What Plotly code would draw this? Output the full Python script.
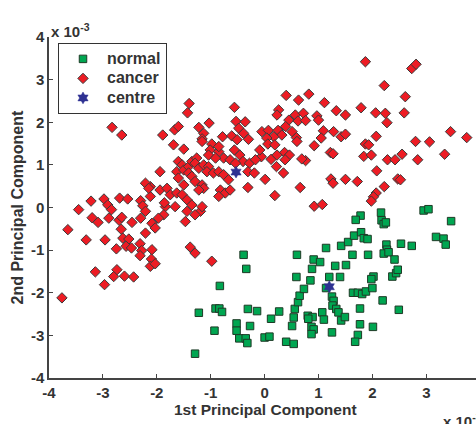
import plotly.graph_objects as go

# ---- data (units of 1e-3) ----
normal_x = [-0.39, -0.34, -0.83, -0.91, -0.84, -0.79, -0.93, -0.52, -0.52, -0.47, -0.35, -0.32,
            -0.31, -0.14, -0.27, 0.00, 0.09, 0.12, 0.27, 0.40, 0.54, 0.51, 0.54, 0.56, 0.62, 0.65,
            0.73, 0.85, 0.59, 0.60, 0.88, 0.91, 1.03, 0.80, 0.89, 0.81, 0.87, 0.91, 0.87, 1.07,
            1.10, 1.14, 1.20, 1.14, 1.25, 1.28, 1.26, 1.33, 1.37, 1.42, 1.49, 1.25, 1.31, 1.51,
            1.40, 1.42, 1.55, 1.66, 1.79, 1.84, 1.91, 1.63, 1.92, 1.64, 1.73, 1.81, 1.88, 2.00,
            1.77, 1.77, 1.73, 1.68, 2.01, 2.19, 2.02, 1.98, 2.26, 2.27, 2.21, 2.30, 2.41, 2.37,
            2.44, 2.47, 2.49, 2.53, 2.73, 3.18, 3.32, 3.36, 1.78, 1.69, 2.16, 2.17, 2.21, 2.25,
            2.95, 3.04, 3.46, -1.22, -1.29]
normal_y = [-1.11, -1.44, -1.84, -2.37, -2.37, -2.45, -2.89, -2.72, -2.89, -3.07, -3.07, -3.18,
            -2.38, -2.43, -2.78, -3.05, -3.03, -2.61, -2.44, -3.15, -3.20, -2.78, -2.58, -2.38,
            -2.22, -2.07, -1.91, -1.71, -1.63, -1.11, -1.44, -1.22, -1.28, -2.54, -2.57, -2.61,
            -2.80, -2.86, -2.97, -2.46, -2.63, -0.95, -1.63, -1.89, -2.09, -2.19, -2.30, -2.38,
            -2.46, -2.65, -2.57, -2.93, -1.37, -1.35, -1.63, -0.90, -0.81, -0.66, -0.58, -0.72,
            -0.74, -1.11, -1.11, -2.00, -2.00, -2.03, -1.97, -1.89, -2.37, -2.74, -2.99, -3.15,
            -2.80, -2.18, -1.62, -1.68, -0.87, -0.99, -1.08, -1.05, -1.22, -1.62, -1.54, -1.46,
            -2.40, -0.85, -0.90, -0.69, -0.73, -0.87, -0.19, -0.29, -0.12, -0.30, -0.39, -0.35,
            -0.07, -0.04, -0.32, -2.47, -3.43]

cancer_x = [-2.83, -2.65, -1.40, -1.43, -1.89, -1.67, -1.60, -1.22, -1.13, -1.03, -0.78, -0.61,
            -0.56, -0.53, -0.36, -1.16, -0.48, -0.39, -0.51, -0.30, 0.40, 0.63, 0.82, 0.26,
            0.23, 0.45, 0.57, 0.72, 0.62, 0.76, -0.05, 0.07, 0.25, 0.39, 0.51, 0.32, 0.59,
            0.17, 0.04, 1.87, 2.73, 2.81, 2.22, 2.61, 1.11, 1.33, 1.50, 1.79, 2.06, 2.24, 2.27,
            2.59, 0.97, 1.00, 1.09, 1.05, 1.28, 1.42, 1.50, 2.07, 1.87, 1.93, 2.80, 3.06, 3.45,
            3.75, 0.92, 1.22, 1.27, 0.76, 0.69, 0.66, 1.84, 1.98, 2.08, 2.28, 2.42, 2.55, 2.84,
            3.34, 1.23, 1.27, 1.50, 1.72, 2.22, 2.47, 2.52, 2.07, 2.02, 1.98, 0.92, 1.07, 0.19,
            -0.31, 0.01, 0.35, -0.56, -0.46, -0.40, -0.28, -0.31, -0.19, -0.06, -0.09, 0.06,
            0.19, 0.12, 0.22, 0.37, 0.46, -0.76, -0.64, -0.17, 0.23, 0.38, 0.60, -0.98, -1.01,
            -1.04, -0.85, -0.91, -1.69, -1.50, -1.16, -1.60, -1.53, -1.63, -1.50, -1.41, -1.35,
            -1.26, -1.29, -1.22, -1.13, -1.04, -1.07, -0.95, -0.85, -0.76, -0.67, -1.41, -1.35,
            -1.29, -1.16, -1.13, -1.50, -1.94, -1.94, -1.81, -1.75, -1.63, -1.53, -1.44, -1.35,
            -1.19, -1.44, -1.66, -1.84, -1.87, -1.97, -2.09, -2.03, -2.12, -2.12, -0.82, -0.73,
            -0.85, -0.64, -1.60, -1.47, -1.29, -1.22, -1.16, -0.85, -0.54, -0.98, -1.38, -1.29,
            -3.65, -3.45, -3.31, -3.22, -3.20, -3.09, -2.98, -2.91, -2.84, -2.96, -2.89, -2.69,
            -2.54, -2.70, -2.65, -2.66, -2.46, -2.63, -2.52, -2.57, -2.47, -2.75, -2.30, -2.26,
            -2.21, -2.31, -2.28, -2.31, -2.09, -2.10, -2.12, -2.03, -2.21, -2.21, -2.15, -1.86,
            -2.30, -3.14, -2.97, -2.74, -2.80, -2.60, -2.43, -3.76]
cancer_y = [1.88, 1.70, 2.44, 2.22, 1.70, 1.82, 1.90, 1.88, 1.74, 1.98, 1.66, 1.68, 2.35, 2.02,
            2.01, 1.61, 1.86, 1.74, 1.59, 1.60, 2.63, 2.52, 2.66, 2.29, 2.17, 2.05, 2.17, 2.21,
            2.03, 2.04, 1.78, 1.81, 1.81, 1.90, 1.78, 1.70, 1.64, 1.66, 1.63, 3.42, 3.26, 3.36,
            2.86, 2.60, 2.46, 2.27, 2.17, 2.34, 2.22, 2.21, 1.99, 2.22, 2.15, 2.05, 1.80, 1.63,
            1.78, 1.66, 1.72, 1.67, 1.49, 1.47, 1.55, 1.54, 1.78, 1.64, 1.45, 1.29, 1.26, 1.10,
            1.14, 0.47, 1.20, 1.23, 0.86, 1.12, 1.12, 1.25, 1.12, 1.25, 0.67, 0.57, 0.66, 0.61,
            0.49, 0.67, 0.65, 0.34, 0.25, 0.15, 0.03, 0.07, 0.28, 0.47, 0.66, 0.81, 1.35, 1.23,
            1.08, 1.04, 0.84, 0.81, 1.19, 1.35, 1.49, 1.47, 1.13, 0.96, 1.29, 1.23, 1.16, 1.12,
            1.12, 1.23, 1.12, 1.55, 1.49, 1.35, 1.23, 1.31, 1.16, 1.47, 1.37, 1.55, 1.08, 1.00,
            0.84, 0.88, 0.96, 1.08, 1.16, 1.04, 0.92, 1.00, 0.96, 0.84, 0.81, 0.84, 0.77, 0.65,
            0.81, 0.73, 0.61, 0.53, 0.45, 0.53, 0.84, 0.41, 0.45, 0.30, 0.34, 0.30, 0.18, 0.06,
            -0.09, -0.09, 0.02, 0.02, -0.17, -0.25, -0.37, -0.48, 0.26, 0.49, 0.41, 0.34, 0.26,
            0.41, 0.69, -0.33, -0.17, 0.41, 0.02, 1.43, 1.04, -1.26, -0.93, -1.07, -0.52, -0.05,
            -0.76, 0.15, -0.24, -0.35, 0.20, 0.06, -0.05, -0.76, -0.25, 0.22, 0.20, -0.30, -0.23,
            -0.51, -0.35, -0.72, -0.74, -0.91, -0.95, -0.97, 0.16, 0.04, -0.09, -0.85, -1.01,
            -1.13, -0.99, -1.21, -1.38, -1.32, -0.60, 0.57, 0.45, 0.11, -0.25, -1.51, -1.81,
            -1.46, -1.62, -1.61, -1.63, -2.12]

centre_x = [-0.53, 1.20]
centre_y = [0.83, -1.86]

series_names = ["normal", "cancer", "centre"]
x_ticks = [-4, -3, -2, -1, 0, 1, 2, 3]
x_ticktext = ["-4", "-3", "-2", "-1", "0", "1", "2", "3"]
y_ticks = [-4, -3, -2, -1, 0, 1, 2, 3, 4]
y_ticktext = ["-4", "-3", "-2", "-1", "0", "1", "2", "3", "4"]
x_title = "1st Principal Component"
y_title = "2nd Principal Component"
exp_label = "x 10<sup>-3</sup>"

FONT = "Liberation Sans, Arial, Helvetica, sans-serif"
TXT = "#333333"


def legend_label(s):
    # larger glyphs while keeping the compact row spacing of the reference legend
    return "<span style='font-size:16px'>" + s + "</span>"


fig = go.Figure()
fig.add_trace(go.Scatter(
    x=normal_x, y=normal_y, mode="markers", name=legend_label(series_names[0]),
    marker=dict(symbol="square", size=7.5, color="#00a651",
                line=dict(color="#1e3a26", width=1))))
fig.add_trace(go.Scatter(
    x=cancer_x, y=cancer_y, mode="markers", name=legend_label(series_names[1]),
    marker=dict(symbol="diamond", size=8, color="#ed1c24",
                line=dict(color="#3a3a3a", width=1))))
fig.add_trace(go.Scatter(
    x=centre_x, y=centre_y, mode="markers", name=legend_label(series_names[2]),
    marker=dict(symbol="hexagram", size=9, color="#2e3192",
                line=dict(color="#2e3192", width=0.5))))

axis_common = dict(
    showline=True, linecolor="#444444", linewidth=1.5,
    ticks="inside", ticklen=4, tickcolor="#444444", tickwidth=1,
    showgrid=False, zeroline=False,
    tickfont=dict(family=FONT, size=15, color=TXT, weight="bold"),
)

fig.update_layout(
    width=476, height=424,
    margin=dict(l=49, r=0, t=37, b=46),
    paper_bgcolor="white", plot_bgcolor="white",
    xaxis=dict(range=[-4, 3.922], tickvals=x_ticks, ticktext=x_ticktext, **axis_common),
    yaxis=dict(range=[-4, 4], tickvals=y_ticks, ticktext=y_ticktext, **axis_common),
    showlegend=True,
    legend=dict(x=0.0211, y=0.982, xanchor="left", yanchor="top",
                bgcolor="white", bordercolor="#333333", borderwidth=1,
                font=dict(family=FONT, size=12.7, color=TXT, weight="bold"),
                itemwidth=38, entrywidth=62, entrywidthmode="pixels"),
    annotations=[
        dict(text=x_title, xref="paper", yref="paper", x=0.506, y=(378 - 409) / 341,
             xanchor="center", yanchor="middle", showarrow=False,
             font=dict(family=FONT, size=15.5, color=TXT, weight="bold")),
        dict(text=y_title, xref="paper", yref="paper", x=-0.0726, y=0.5,
             xanchor="center", yanchor="middle", textangle=-90, showarrow=False,
             font=dict(family=FONT, size=16, color=TXT, weight="bold")),
        dict(text=exp_label, xref="paper", yref="paper", x=0.0, y=(378 - 42) / 341,
             xanchor="left", yanchor="bottom", showarrow=False,
             font=dict(family=FONT, size=15, color=TXT, weight="bold")),
        dict(text=exp_label, xref="paper", yref="paper", x=(441 - 49) / 427, y=(378 - 432) / 341,
             xanchor="left", yanchor="bottom", showarrow=False,
             font=dict(family=FONT, size=15, color=TXT, weight="bold")),
    ],
)

fig.write_html("out.html", config={"displayModeBar": False},
               post_script="document.body.style.margin='0px';document.body.style.padding='0px';")
